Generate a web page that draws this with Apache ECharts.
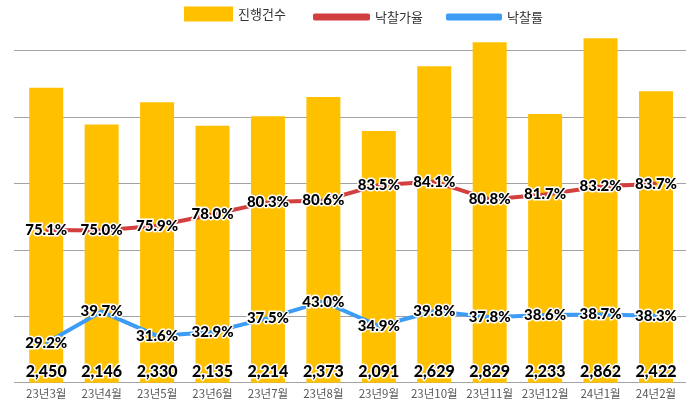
<!DOCTYPE html>
<html><head><meta charset="utf-8">
<script src="https://cdn.jsdelivr.net/npm/echarts@6/dist/echarts.min.js"></script>
<style>html,body{margin:0;padding:0;background:#fff}#c{width:700px;height:408px}</style>
</head><body><div id="c"></div>
<script>
const categories = ['23년3월','23년4월','23년5월','23년6월','23년7월','23년8월','23년9월','23년10월','23년11월','23년12월','24년1월','24년2월'];
const counts = [2450,2146,2330,2135,2214,2373,2091,2629,2829,2233,2862,2422];
const bidPriceRate = [75.1,75.0,75.9,78.0,80.3,80.6,83.5,84.1,80.8,81.7,83.2,83.7];
const winRate = [29.2,39.7,31.6,32.9,37.5,43.0,34.9,39.8,37.8,38.6,38.7,38.3];
const seriesNames = ['진행건수','낙찰가율','낙찰률'];

const chart = echarts.init(document.getElementById('c'), null, {renderer:'canvas'});
const labelFont = {fontFamily:'Lato, "Noto Sans", sans-serif', fontWeight:900, fontSize:15, color:'#000', textBorderColor:'#fff', textBorderWidth:3};
const legendText = {fontFamily:'"Noto Sans CJK KR", sans-serif', fontSize:13, color:'#333'};
chart.setOption({
  animation:false,
  backgroundColor:'#fff',
  legend:[
    {left:184, top:6.5, padding:0, itemWidth:49, itemHeight:15, itemGap:0, icon:'rect', data:[seriesNames[0]], textStyle:legendText},
    {left:313, top:10.5, padding:0, itemWidth:57, itemHeight:7, itemGap:0, icon:'roundRect', data:[seriesNames[1]], textStyle:legendText},
    {left:446, top:10.5, padding:0, itemWidth:56, itemHeight:7, itemGap:0, icon:'roundRect', data:[seriesNames[2]], textStyle:legendText}
  ],
  grid:[
    {left:18.5, right:16.3, top:50.5, bottom:25.3},
    {left:14, right:14, top:50.5, bottom:25.3}
  ],
  xAxis:[
    {type:'category', data:categories, gridIndex:0, axisLine:{show:false}, axisTick:{show:false},
     axisLabel:{interval:0, margin:5, fontSize:11.5, color:'#595959', fontFamily:'"Noto Sans CJK KR", sans-serif'}},
    {type:'value', gridIndex:1, show:false, min:0, max:1}
  ],
  yAxis:[
    {type:'value', gridIndex:0, min:0, max:2760, show:false, splitLine:{show:false}},
    {type:'value', gridIndex:0, min:46.7, max:108.5, show:false, splitLine:{show:false}},
    {type:'value', gridIndex:0, min:16, max:126.7, show:false, splitLine:{show:false}},
    {type:'value', gridIndex:1, min:0, max:5, interval:1, axisLabel:{show:false}, axisLine:{show:false}, axisTick:{show:false},
     splitLine:{show:true, lineStyle:{color:'#a3a3a3', width:1.2}}}
  ],
  series:[
    {name:seriesNames[0], type:'bar', xAxisIndex:0, yAxisIndex:0, data:counts, barWidth:34, clip:false,
     itemStyle:{color:'#FFC000'},
     label:{show:true, position:'insideBottom', distance:3, formatter:p=>p.value.toLocaleString('en-US'), ...labelFont, fontSize:16}},
    {name:seriesNames[1], type:'line', xAxisIndex:0, yAxisIndex:1, data:bidPriceRate, symbol:'circle', symbolSize:2,
     lineStyle:{color:'#D13F3F', width:4}, itemStyle:{color:'#D13F3F'},
     label:{show:true, position:'inside', formatter:p=>p.value.toFixed(1)+'%', ...labelFont}},
    {name:seriesNames[2], type:'line', xAxisIndex:0, yAxisIndex:2, data:winRate, symbol:'circle', symbolSize:2,
     lineStyle:{color:'#3C9CF6', width:4}, itemStyle:{color:'#3C9CF6'},
     label:{show:true, position:'inside', formatter:p=>p.value.toFixed(1)+'%', ...labelFont}}
  ]
});
</script></body></html>
